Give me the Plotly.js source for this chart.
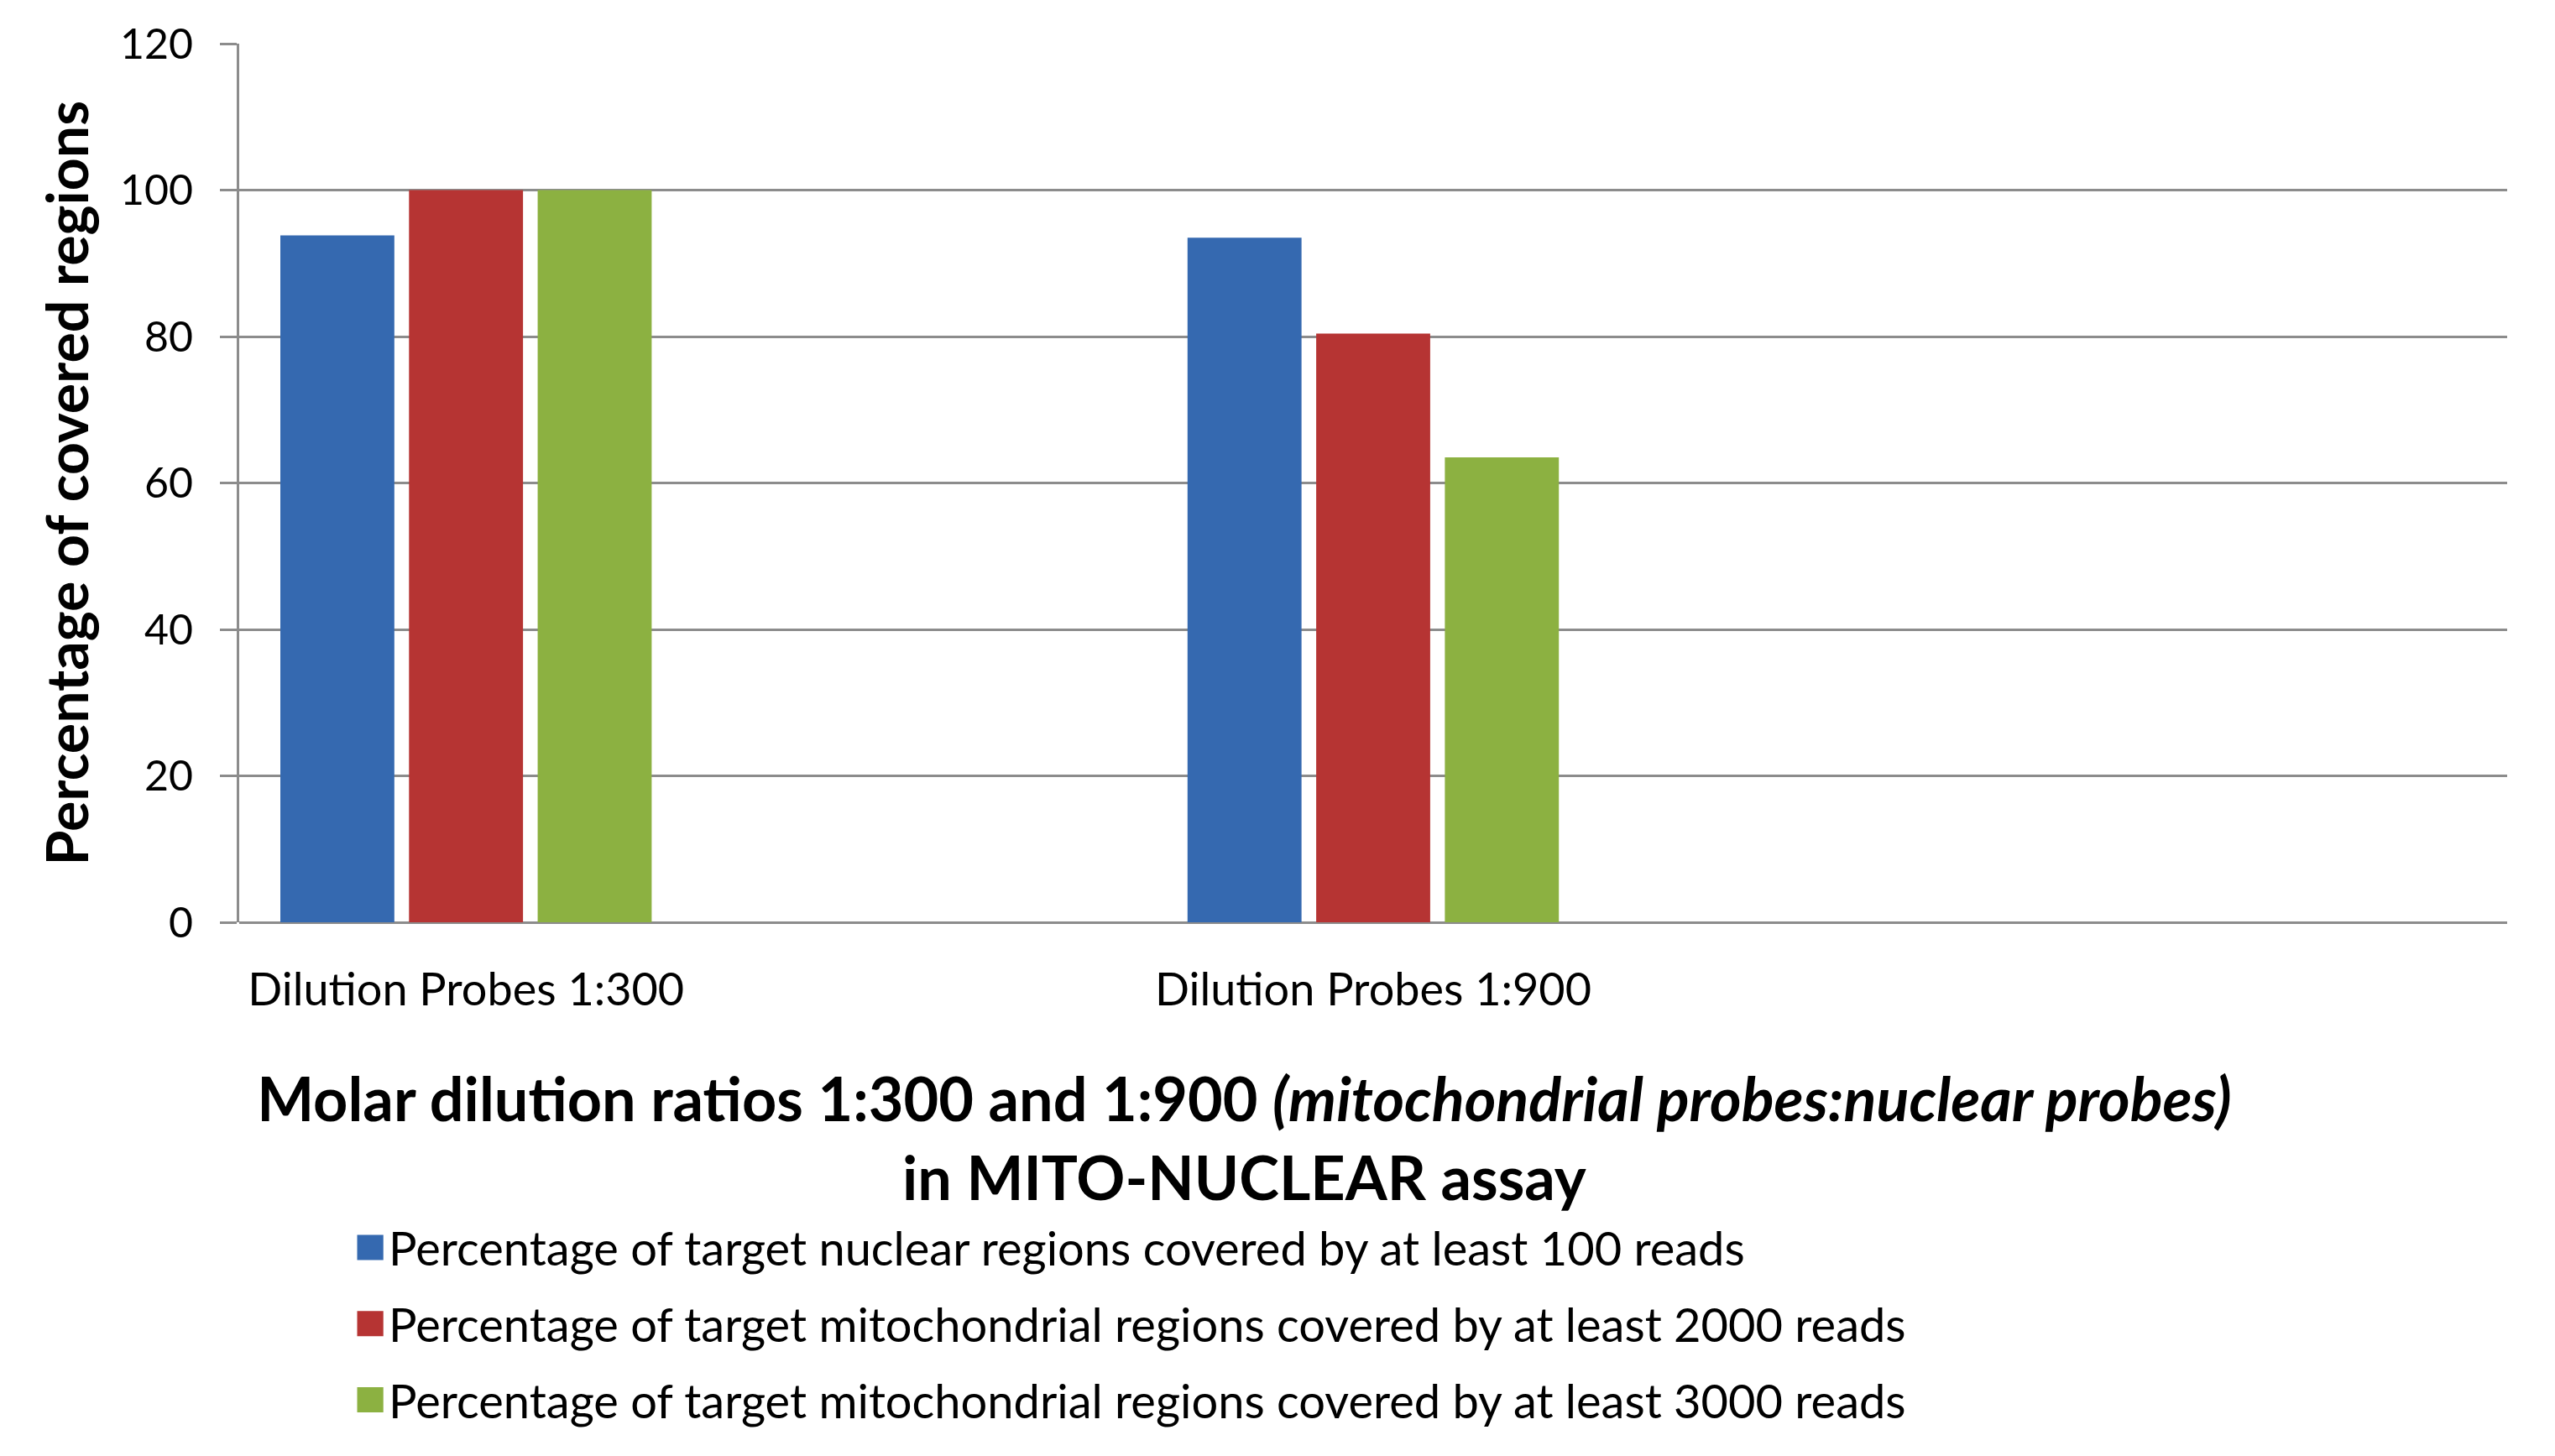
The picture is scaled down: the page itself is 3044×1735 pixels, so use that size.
<!DOCTYPE html>
<html>
<head>
<meta charset="utf-8">
<script src="https://cdn.plot.ly/plotly-3.0.1.min.js"></script>
<style>
  html, body { margin: 0; padding: 0; background: #ffffff; }
  #chart { width: 3044px; height: 1735px; }
</style>
</head>
<body>
<div id="chart"></div>
<script>
// ---- data ----
const categories = ["Dilution Probes 1:300", "Dilution Probes 1:900"];
const seriesNames = [
  "Percentage of target nuclear regions covered by at least 100 reads",
  "Percentage of target mitochondrial regions covered by at least 2000 reads",
  "Percentage of target mitochondrial regions covered by at least 3000 reads"
];
const nuclear100 = [93.8, 93.5];
const mito2000 = [100, 80.4];
const mito3000 = [100, 63.5];
const yTickValues = [0, 20, 40, 60, 80, 100, 120];
const yTickLabels = ["0", "20", "40", "60", "80", "100", "120"];
const yAxisTitle = "Percentage of covered regions";

const colors = ["#3569B0", "#B63433", "#8CB141"];
const seriesValues = [nuclear100, mito2000, mito3000];

const FONT = "Lato, 'Liberation Sans', Arial, sans-serif";

const traces = seriesValues.map((vals, i) => ({
  type: "bar",
  name: seriesNames[i],
  x: categories,
  y: vals,
  legendgroup: "g" + i,
  marker: { color: colors[i], line: { width: 0 } },
  hoverinfo: "x+y+name"
}));

const gridColor = "#8C8C8C";

const layout = {
  width: 3044,
  height: 1735,
  paper_bgcolor: "#ffffff",
  plot_bgcolor: "#ffffff",
  margin: { l: 285, r: 57, t: 52, b: 636, pad: 0, autoexpand: false },
  barmode: "group",
  bargap: 0.5745,
  bargroupgap: 0.114,
  showlegend: true,
  font: { family: FONT, color: "#000000", size: 44 },
  title: {
    text: "<b>Molar dilution ratios 1:300 and 1:900 <i>(mitochondrial probes:nuclear probes)</i><br>in MITO-NUCLEAR assay</b>",
    font: { family: FONT, size: 72, color: "#000000" },
    xref: "container",
    yref: "container",
    x: 0.487,
    xanchor: "center",
    y: 0.23,
    yanchor: "middle"
  },
  xaxis: {
    type: "category",
    range: [-0.25, 2.25],
    showgrid: false,
    showline: false,
    zeroline: false,
    ticks: "",
    tickangle: 0,
    automargin: false,
    ticklabelstandoff: 44,
    tickfont: { family: FONT, size: 54, color: "#000000" },
    fixedrange: true
  },
  yaxis: {
    range: [0, 120],
    tickvals: yTickValues,
    ticktext: yTickLabels,
    automargin: false,
    showgrid: true,
    gridcolor: gridColor,
    gridwidth: 3,
    zeroline: true,
    zerolinecolor: gridColor,
    zerolinewidth: 3,
    showline: true,
    linecolor: gridColor,
    linewidth: 3,
    ticks: "outside",
    ticklen: 20,
    tickwidth: 3,
    tickcolor: gridColor,
    ticklabelstandoff: 22,
    tickfont: { family: FONT, size: 50, color: "#000000" },
    fixedrange: true
  },
  annotations: [{
    text: "<b>" + yAxisTitle + "</b>",
    xref: "paper",
    yref: "paper",
    x: -0.0766,
    y: 0.5,
    xanchor: "center",
    yanchor: "middle",
    textangle: -90,
    showarrow: false,
    font: { family: FONT, size: 68, color: "#000000" }
  }],
  legend: {
    orientation: "v",
    xref: "container",
    yref: "container",
    x: 0.139,
    xanchor: "left",
    y: 0.168,
    yanchor: "top",
    bgcolor: "rgba(0,0,0,0)",
    borderwidth: 0,
    tracegroupgap: 15,
    font: { family: FONT, size: 56, color: "#000000" },
    traceorder: "grouped"
  }
};

Plotly.newPlot("chart", traces, layout, { displayModeBar: false, staticPlot: true }).then(() => {
  // enlarge legend swatches to match the reference's square keys
  document.querySelectorAll("#chart .legendpoints path").forEach(p => {
    const t = p.getAttribute("transform") || "";
    p.setAttribute("transform", t + " translate(-2,0) scale(2.6,2.5)");
  });
});
</script>
</body>
</html>
